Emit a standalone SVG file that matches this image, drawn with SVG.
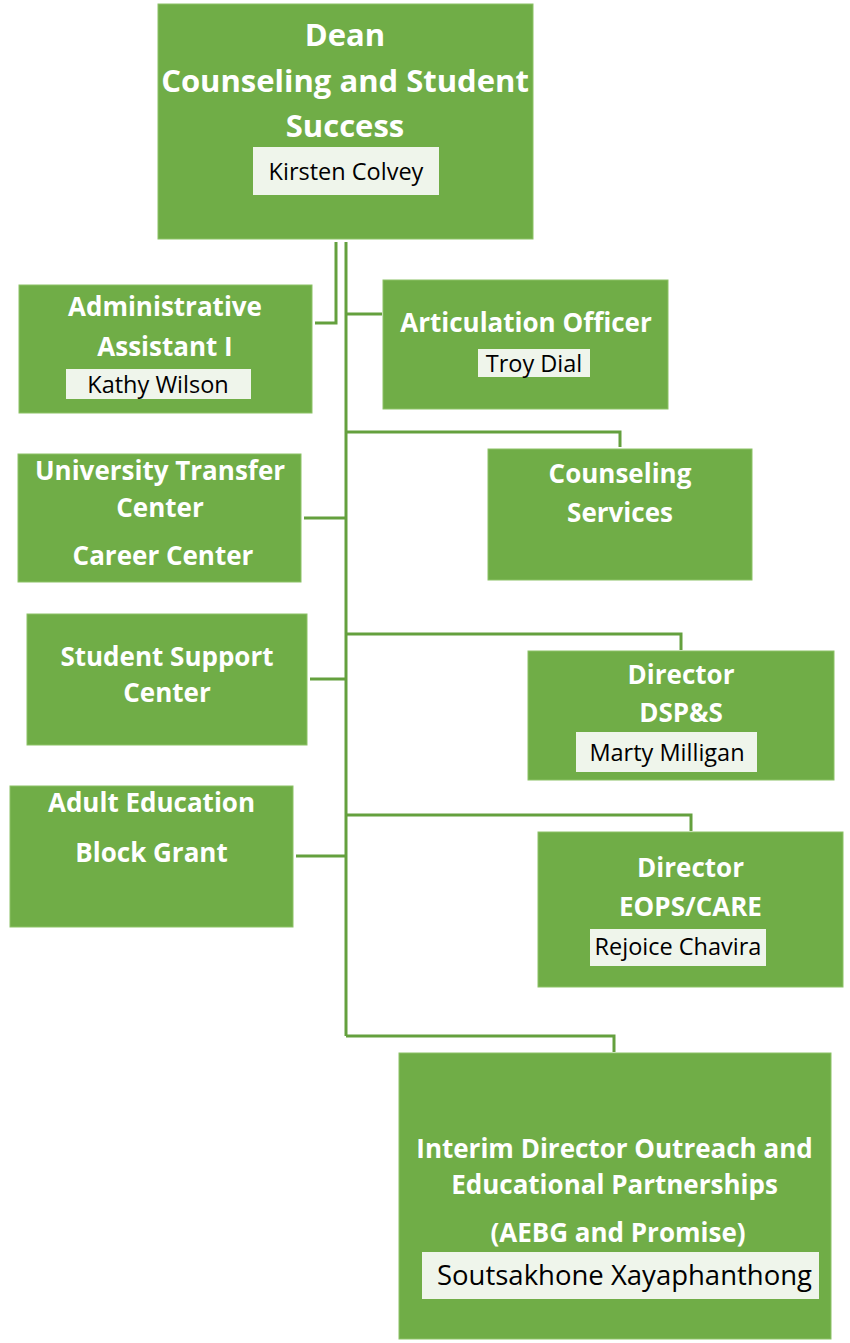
<svg xmlns="http://www.w3.org/2000/svg" width="850" height="1343" viewBox="0 0 850 1343">
<style>
.box{fill:#70AD47;stroke:#8CC267;stroke-width:1}
.nm{fill:#EFF5EB}
.t{font-family:"Open Sans","Liberation Sans",sans-serif;font-weight:bold;fill:#FFFFFF;text-anchor:middle;font-size:26px}
.td{font-size:31px}
.n{font-family:"Open Sans","Liberation Sans",sans-serif;fill:#000000;text-anchor:middle;font-size:23.5px}
.c{fill:none;stroke:#64A03E;stroke-width:3}
</style>
<rect width="850" height="1343" fill="#FFFFFF"/>
<g id="connectors">
<polyline class="c" points="336,242 336,323 315,323"/>
<line class="c" x1="346" y1="242" x2="346" y2="1036"/>
<line class="c" x1="346" y1="314" x2="382" y2="314"/>
<polyline class="c" points="346,432 620,432 620,447"/>
<line class="c" x1="346" y1="518" x2="304" y2="518"/>
<polyline class="c" points="346,634 681,634 681,650"/>
<line class="c" x1="346" y1="679" x2="310" y2="679"/>
<polyline class="c" points="346,815 691,815 691,831"/>
<line class="c" x1="346" y1="856" x2="296" y2="856"/>
<polyline class="c" points="346,1036 614,1036 614,1052"/>
</g>
<g id="dean">
<rect class="box" x="158" y="4" width="375" height="235"/>
<text class="t td" x="345" y="46">Dean</text>
<text class="t td" x="345" y="92">Counseling and Student</text>
<text class="t td" x="345" y="137">Success</text>
<rect class="nm" x="253" y="147" width="186" height="48"/>
<text class="n" x="346" y="180">Kirsten Colvey</text>
</g>
<g id="admin">
<rect class="box" x="19" y="285" width="293" height="128"/>
<text class="t" x="165" y="316">Administrative</text>
<text class="t" x="165" y="356">Assistant I</text>
<rect class="nm" x="66" y="369" width="185" height="30"/>
<text class="n" x="158" y="393">Kathy Wilson</text>
</g>
<g id="articulation">
<rect class="box" x="383" y="280" width="285" height="129"/>
<text class="t" x="526" y="332">Articulation Officer</text>
<rect class="nm" x="478" y="349" width="112" height="28"/>
<text class="n" x="534" y="372">Troy Dial</text>
</g>
<g id="utc">
<rect class="box" x="18" y="454" width="283" height="128"/>
<text class="t" x="160" y="480">University Transfer</text>
<text class="t" x="160" y="517">Center</text>
<text class="t" x="163" y="565">Career Center</text>
</g>
<g id="counseling">
<rect class="box" x="488" y="449" width="264" height="131"/>
<text class="t" x="620" y="483">Counseling</text>
<text class="t" x="620" y="522">Services</text>
</g>
<g id="ssc">
<rect class="box" x="27" y="614" width="280" height="131"/>
<text class="t" x="167" y="666">Student Support</text>
<text class="t" x="167" y="702">Center</text>
</g>
<g id="dsps">
<rect class="box" x="528" y="651" width="306" height="129"/>
<text class="t" x="681" y="684">Director</text>
<text class="t" x="681" y="722">DSP&amp;S</text>
<rect class="nm" x="576" y="732" width="181" height="40"/>
<text class="n" x="667" y="761">Marty Milligan</text>
</g>
<g id="aebg">
<rect class="box" x="10" y="786" width="283" height="141"/>
<text class="t" x="151.5" y="812">Adult Education</text>
<text class="t" x="151.5" y="862">Block Grant</text>
</g>
<g id="eops">
<rect class="box" x="538" y="832" width="305" height="155"/>
<text class="t" x="690.5" y="877">Director</text>
<text class="t" x="690.5" y="916">EOPS/CARE</text>
<rect class="nm" x="590" y="929" width="176" height="37"/>
<text class="n" x="678" y="955">Rejoice Chavira</text>
</g>
<g id="outreach">
<rect class="box" x="399" y="1053" width="432" height="286"/>
<text class="t" x="614.5" y="1158">Interim Director Outreach and</text>
<text class="t" x="614.5" y="1194">Educational Partnerships</text>
<text class="t" x="618" y="1242">(AEBG and Promise)</text>
<rect class="nm" x="422" y="1252" width="397" height="47"/>
<text class="n" x="624.5" y="1285" style="font-size:27.5px">Soutsakhone Xayaphanthong</text>
</g>
</svg>
